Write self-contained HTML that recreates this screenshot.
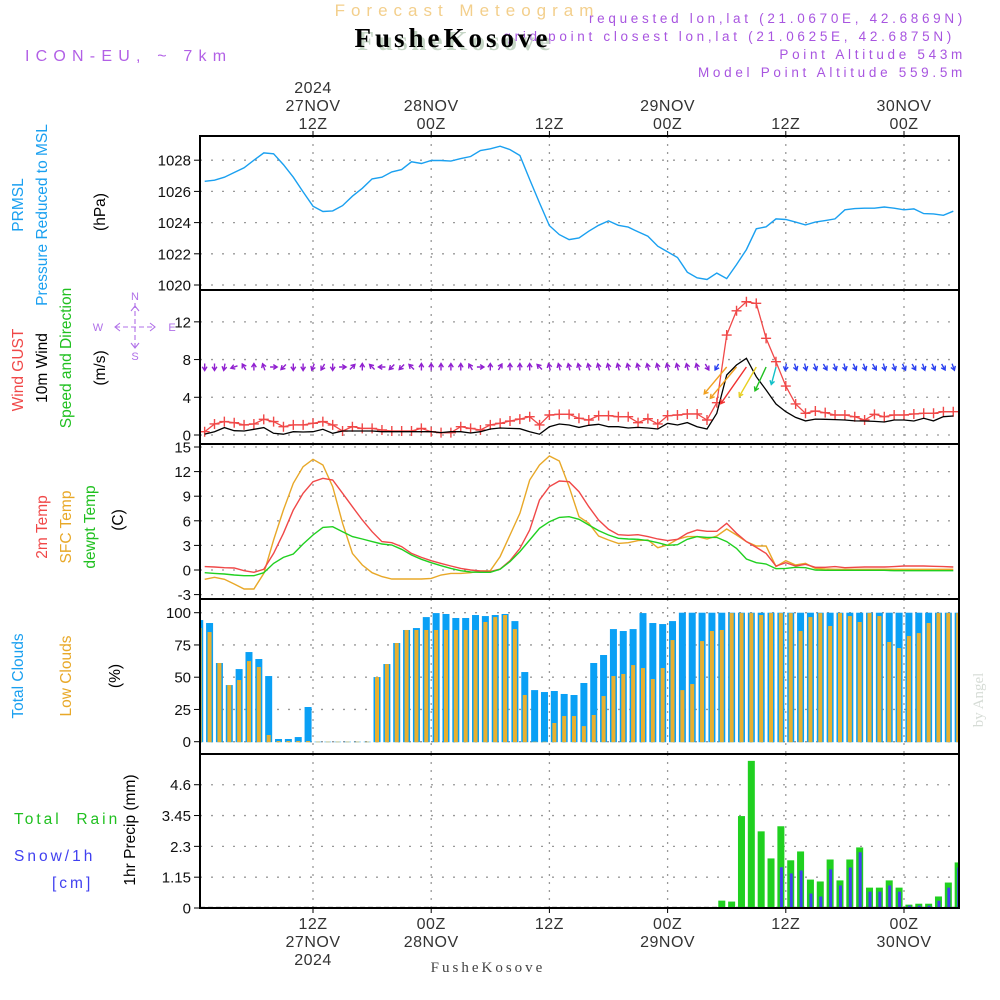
<!DOCTYPE html>
<html><head><meta charset="utf-8">
<style>
html,body{margin:0;padding:0;background:#fff;}
svg{display:block;}
text{font-family:"Liberation Sans",sans-serif;}
</style></head>
<body>
<svg id="chart" width="1000" height="1000" viewBox="0 0 1000 1000" xmlns="http://www.w3.org/2000/svg">
  <rect x="0" y="0" width="1000" height="1000" fill="#fff"/>
  <text x="467" y="16" text-anchor="middle" font-size="17" letter-spacing="6" fill="#f3cf8c">Forecast Meteogram</text>
  <g fill="#a855e0" font-size="13.5" letter-spacing="3.7" text-anchor="end">
    <text x="966" y="23">requested lon,lat (21.0670E, 42.6869N)</text>
    <text x="955" y="41">grid point closest lon,lat (21.0625E, 42.6875N)</text>
    <text x="966" y="59">Point Altitude 543m</text>
    <text x="966" y="77">Model Point Altitude 559.5m</text>
  </g>
  <text x="456" y="50" text-anchor="middle" font-weight="bold" font-size="27" letter-spacing="4" fill="#c6d6c6" style="font-family:'Liberation Serif',serif">FusheKosove</text>
  <text x="453" y="47" text-anchor="middle" font-weight="bold" font-size="27" letter-spacing="4" fill="#000" style="font-family:'Liberation Serif',serif">FusheKosove</text>
  <text x="25" y="61" font-size="16" letter-spacing="6.2" fill="#b260e6">ICON-EU, ~ 7km</text>
  <text x="983" y="700" transform="rotate(-90 983 700)" text-anchor="middle" font-size="15" fill="#d6dcd6" style="font-family:'Liberation Serif',serif">by Angel</text>
  <text x="488" y="972" text-anchor="middle" font-size="15" letter-spacing="3" fill="#444" style="font-family:'Liberation Serif',serif">FusheKosove</text>
  <g id="plot"></g>
</svg>
<script>
// ---------- data (hour index h = 1..N, hours after 00Z 27NOV 2024) ----------
const pressure = [1026.65,1026.72,1026.91,1027.21,1027.51,1028.0,1028.47,1028.41,1027.72,1026.91,1025.97,1025.05,1024.71,1024.75,1025.09,1025.69,1026.2,1026.8,1026.91,1027.25,1027.4,1027.9,1027.79,1027.98,1027.98,1027.94,1028.1,1028.24,1028.62,1028.73,1028.9,1028.68,1028.3,1026.76,1025.26,1023.81,1023.23,1022.91,1023.02,
 1023.45,1023.83,1024.11,1023.83,1023.71,1023.41,1023.13,1022.49,1022.12,1021.76,1020.82,1020.46,1020.35,1020.76,1020.41,1021.31,1022.27,1023.6,1023.73,1024.24,1024.2,1024.03,1023.85,1024.03,1024.13,1024.24,1024.82,1024.9,1024.92,1024.92,1025.0,1024.92,1024.82,1024.88,1024.58,1024.56,1024.47,1024.73];
const wind10m = [0.1,0.35,0.78,0.46,0.42,0.6,0.78,0.18,0.08,0.35,0.32,0.35,0.6,0.18,0.42,0.42,0.42,0.42,0.35,0.35,0.35,0.35,0.35,0.35,0.25,0.35,0.35,0.21,0.35,0.64,0.74,0.7,0.67,0.35,0.08,0.88,1.17,1.06,0.81,
 1.03,1.13,0.88,0.88,0.74,0.81,0.74,0.64,1.24,1.06,1.31,0.88,0.64,2.3,6.36,7.42,8.13,6.18,4.77,3.29,2.47,1.87,1.5,1.69,1.66,1.63,1.59,1.5,1.48,1.44,1.38,1.59,1.59,1.48,1.77,1.5,1.94,2.02];
const gust = [0.35,1.17,1.42,1.3,1.07,1.17,1.66,1.42,0.88,1.07,1.07,1.24,1.42,1.07,0.42,0.88,0.7,0.7,0.53,0.42,0.42,0.42,0.7,0.35,0.25,0.25,0.88,0.7,0.53,1.07,1.24,1.48,1.69,1.94,1.07,2.12,2.19,2.19,1.77,
 1.59,2.05,2.05,1.94,1.94,1.31,1.73,1.17,2.05,2.12,2.23,2.23,1.59,3.43,10.6,13.17,14.13,13.96,10.25,7.77,5.19,3.29,2.3,2.54,2.37,2.12,2.12,1.94,1.59,2.19,1.94,2.12,2.12,2.23,2.3,2.3,2.47,2.47];
const windDir = [180,180,190,250,330,0,340,90,225,180,180,200,210,180,90,45,0,315,270,225,225,315,0,0,0,0,0,330,90,0,30,0,0,0,315,
 345,345,345,345,345,345,345,345,345,345,345,345,345,345,345,345,150,210,220,220,215,210,205,195,190,
 160,165,160,150,160,165,155,160,150,165,160,155,150,160,155,150,160,155];
const temp2m = [0.41,0.37,0.28,0.24,-0.08,-0.28,0.08,2.03,4.47,7.32,9.35,10.77,11.18,10.98,9.35,7.72,6.1,4.67,3.46,3.33,2.85,2.03,1.54,1.14,0.81,0.49,0.2,0,-0.12,-0.2,0.12,1.14,2.64,4.88,8.54,10.16,10.85,10.77,9.55,
 7.72,6.1,4.96,4.31,4.23,4.31,4.07,3.78,3.58,3.74,4.47,4.88,4.72,4.72,5.69,4.47,3.46,2.76,2.03,0.49,0.89,0.49,0.69,0.33,0.33,0.41,0.28,0.33,0.37,0.37,0.37,0.41,0.49,0.49,0.49,0.45,0.41,0.37];
const tempSfc = [-1.14,-0.89,-1.14,-1.71,-2.32,-2.32,-0.41,3.66,7.32,10.57,12.6,13.5,12.8,10.16,5.69,2.03,0.61,-0.33,-0.81,-1.1,-1.1,-1.1,-1.1,-1.02,-0.61,-0.41,-0.41,-0.33,-0.12,-0.08,1.63,4.27,6.91,10.98,12.8,13.9,13.29,10.16,6.5,
 5.69,4.15,3.66,3.25,3.33,3.58,3.66,2.72,3.05,3.74,4.07,4.07,3.78,4.15,5.0,4.27,3.46,2.93,2.93,0.41,1.14,0.61,0.81,0.2,0.12,0.08,0.08,0.08,0.08,0.08,0.08,0.08,0.08,0.08,0.08,0.08,0.08,0.08];
const dewpt = [-0.33,-0.41,-0.49,-0.61,-0.69,-0.69,-0.33,0.81,1.54,1.95,3.17,4.27,5.2,5.28,4.67,4.07,3.78,3.46,3.17,3.05,2.52,1.83,1.3,0.89,0.53,0.2,-0.08,-0.24,-0.28,-0.28,0.08,1.02,2.24,3.66,5.08,5.89,6.42,6.5,6.18,
 5.49,4.8,4.27,3.86,3.78,3.74,3.58,3.33,3.01,3.09,3.74,4.07,3.98,3.98,3.46,2.64,1.34,0.89,0.73,0.16,0.2,0.33,0.28,0,-0.04,-0.04,-0.04,-0.04,-0.04,-0.04,-0.04,-0.08,-0.08,-0.08,-0.08,-0.08,-0.08,-0.08];
const totalClouds = [94.3,92,61,43.9,56.3,69.5,64.1,50.9,2.1,2.1,3.6,26.9,0,0,0,0,0,0,50.1,60.2,76.5,86.6,88.1,96.6,99.7,99,95.9,95.9,98.2,97.4,98.2,99,93.5,54,40,38.5,39.3,37,36.2,45.5,
 61,67.2,87.3,85.8,87.3,99.7,92,91.2,93.5,100,100,100,100,100,100,100,100,100,100,100,100,100,100,100,100,100,100,100,100,100,100,100,100,100,100,100,100,100];
const lowClouds = [88.1,85,61,43.9,47.8,62.5,57.9,5.2,0.5,0.5,0.5,0.5,0,0,0,0,0,0,50.1,60.2,76.5,86.6,86.6,86.6,86.6,86.6,86.6,86.6,86.6,92.8,96.6,98.2,87.3,36.2,0,0,14.5,19.9,19.9,12.1,
 20.7,35.4,50.9,52.5,59.4,57.1,48.6,57.1,78.8,40,44.7,78,85.8,86.6,99.7,99.7,99.7,98.2,99.7,99.7,99.7,85.8,96.6,99.7,89.7,99.7,97.4,92.8,99.7,97.4,77.3,72.6,81.9,84.2,92,99.7,99.7,99.7];
const rainTotal = [0,0,0,0,0,0,0,0,0,0,0,0,0,0,0,0,0,0,0,0,0,0,0,0,0,0,0,0,0,0,0,0,0,0,0,0,0,0,0,0,0,0,0,0,0,0,0,0,0,0,0,0,0,
 0.275,0.24,3.43,5.49,2.86,1.85,3.05,1.78,2.11,1.06,0.99,1.81,1.03,1.81,2.26,0.76,0.76,1.03,0.76,0.125,0.16,0.16,0.43,0.95,1.7];
const snow1h = [0,0,0,0,0,0,0,0,0,0,0,0,0,0,0,0,0,0,0,0,0,0,0,0,0,0,0,0,0,0,0,0,0,0,0,0,0,0,0,0,0,0,0,0,0,0,0,0,0,0,0,0,0,
 0,0,0,0,0,0.02,1.52,1.29,1.4,0.54,0.43,1.44,0.84,1.51,2.08,0.61,0.61,0.84,0.61,0.09,0.09,0.09,0.27,0.76,1.51];
const pressureTicks = [1020,1022,1024,1026,1028];
const windTicks = [0,4,8,12];
const tempTicks = [-3,0,3,6,9,12,15];
const cloudTicks = [0,25,50,75,100];
const precipTicks = [0,1.15,2.3,3.45,4.6];
const timeTicksH = [12,24,36,48,60,72];
const topLabels = [["2024","27NOV","12Z"],["","28NOV","00Z"],["","","12Z"],["","29NOV","00Z"],["","","12Z"],["","30NOV","00Z"]];
const bottomLabels = [["12Z","27NOV","2024"],["00Z","28NOV",""],["12Z","",""],["00Z","29NOV",""],["12Z","",""],["00Z","30NOV",""]];

// ---------- axes ----------
const X0 = 200, X1 = 959;
const xh = h => 313 + (h - 12) * 9.85;
const yP = v => 285 - (v - 1020) * 15.6;
const yW = v => 435 - v * 9.43;
const yT = v => 570 - v * 8.2;
const yC = v => 741.7 - v * 1.29;
const yR = v => 908 - v * 26.8;
const panels = [[136,290,'pressure'],[290,444,'wind'],[444,599,'temperature'],[599,754,'clouds'],[754,908,'precip']];

const NS = 'http://www.w3.org/2000/svg';
const plot = document.getElementById('plot');
function mk(tag, attrs, parent) {
  const e = document.createElementNS(NS, tag);
  for (const k in attrs) e.setAttribute(k, attrs[k]);
  (parent || plot).appendChild(e);
  return e;
}
const defs = mk('defs', {});
panels.forEach((p, i) => {
  const cp = mk('clipPath', {id: 'clip' + i}, defs);
  mk('rect', {x: X0, y: p[0], width: X1 - X0, height: p[1] - p[0]}, cp);
});

function panelGroup(i, name) {
  const g = mk('g', {'clip-path': 'url(#clip' + i + ')'});
  
  
  return g;
}

panels.forEach((p, i) => {
  const g = mk('g', {});
  
  
  timeTicksH.forEach(h => {
    mk('line', {x1: xh(h), x2: xh(h), y1: p[0], y2: p[1], stroke: '#999', 'stroke-width': 1.3, 'stroke-dasharray': '2,6'}, g);
  });
});
function yAxis(ticks, yf, i, fmt) {
  const p = panels[i];
  const g = mk('g', {});
  
  
  ticks.forEach(v => {
    const y = yf(v);
    mk('line', {x1: X0, x2: X1, y1: y, y2: y, stroke: '#999', 'stroke-width': 1.3, 'stroke-dasharray': '2,9'}, g);
    mk('line', {x1: X0 - 6, x2: X0, y1: y, y2: y, stroke: '#000', 'stroke-width': 1}, g);
    const t = mk('text', {x: X0 - 9, y: y + 5.5, 'text-anchor': 'end', 'font-size': 15, fill: '#111'}, g);
    t.textContent = fmt ? fmt(v) : String(v);
  });
}
yAxis(pressureTicks, yP, 0);
yAxis(windTicks, yW, 1);
yAxis(tempTicks, yT, 2);
yAxis(cloudTicks, yC, 3);
yAxis(precipTicks, yR, 4);

function linePath(arr, yf) {
  return arr.map((v, i) => (i ? 'L' : 'M') + xh(i + 1).toFixed(1) + ',' + yf(v).toFixed(1)).join('');
}
{
  const g = panelGroup(0, 'pressure-series');
  const p = mk('path', {d: linePath(pressure, yP), fill: 'none', stroke: '#1aa0f0', 'stroke-width': 1.4}, g);
  
  
}
{
  const g = panelGroup(1, 'wind-series');
  const gl = mk('path', {d: linePath(gust, yW), fill: 'none', stroke: '#f04848', 'stroke-width': 1.3}, g);
  
  
  gust.forEach((v, i) => {
    const x = xh(i + 1), y = yW(v);
    const m = mk('path', {d: `M${x - 5},${y}H${x + 5}M${x},${y - 5}V${y + 5}`, stroke: '#f04848', 'stroke-width': 1.4}, g);
    
    
  });
  const wl = mk('path', {d: linePath(wind10m, yW), fill: 'none', stroke: '#000', 'stroke-width': 1.3}, g);
  
  
  windDir.forEach((d, i) => {
    const s = wind10m[Math.min(i, wind10m.length - 1)];
    let col = '#9020d0';
    if (s >= 8) col = '#f03030'; else if (s >= 6.3) col = '#f0a020'; else if (s >= 5.5) col = '#e8d020';
    else if (s >= 4) col = '#20c020'; else if (s >= 3) col = '#10c0c8'; else if (s >= 1.35) col = '#2a40f0';
    const x0 = xh(i + 1), y0 = 367;
    const len = s >= 3 ? 5.5 * s : 7;
    const rad = d * Math.PI / 180;
    const dx = Math.sin(rad), dy = -Math.cos(rad);
    const sx = s >= 3 ? x0 : x0 - dx * len / 2, sy = s >= 3 ? y0 : y0 - dy * len / 2;
    const ex = sx + dx * len, ey = sy + dy * len;
    const hl = 4.5, a = 0.55;
    const h1x = ex - hl * (dx * Math.cos(a) - dy * Math.sin(a)), h1y = ey - hl * (dy * Math.cos(a) + dx * Math.sin(a));
    const h2x = ex - hl * (dx * Math.cos(a) + dy * Math.sin(a)), h2y = ey - hl * (dy * Math.cos(a) - dx * Math.sin(a));
    const ar = mk('path', {d: `M${sx.toFixed(1)},${sy.toFixed(1)}L${ex.toFixed(1)},${ey.toFixed(1)}M${h1x.toFixed(1)},${h1y.toFixed(1)}L${ex.toFixed(1)},${ey.toFixed(1)}L${h2x.toFixed(1)},${h2y.toFixed(1)}`, fill: 'none', stroke: col, 'stroke-width': 1.4}, g);
    
    
  });
}
{
  const g = panelGroup(2, 'temperature-series');
  [[tempSfc, '#e8a828', 'sfc-temp-line'], [temp2m, '#f04848', 'temp-2m-line'], [dewpt, '#20d020', 'dewpoint-line']].forEach(s => {
    const p = mk('path', {d: linePath(s[0], yT), fill: 'none', stroke: s[1], 'stroke-width': 1.4}, g);
    
    
  });
}
{
  const g = panelGroup(3, 'cloud-series');
  totalClouds.forEach((v, i) => {
    const xc = xh(i + 0.5);
    const r = mk('rect', {x: xc - 3.5, y: yC(v), width: 7, height: yC(0) - yC(v) + 0.5, fill: '#0aa0f5'}, g);
    
    
    const lv = lowClouds[i];
    const r2 = mk('rect', {x: xc - 2, y: yC(lv), width: 4, height: yC(0) - yC(lv) + 0.5, fill: '#e8b030'}, g);
    
    
  });
}
{
  const g = panelGroup(4, 'precip-series');
  mk('line', {x1: X0, x2: X1, y1: yR(0) - 0.5, y2: yR(0) - 0.5, stroke: '#000', 'stroke-width': 1.2, 'stroke-dasharray': '5,3'}, g);
  rainTotal.forEach((v, i) => {
    if (v <= 0) return;
    const xc = xh(i + 0.5);
    const r = mk('rect', {x: xc - 3.5, y: yR(v), width: 7, height: yR(0) - yR(v), fill: '#20d020'}, g);
    
    
  });
  snow1h.forEach((v, i) => {
    if (v <= 0) return;
    const xc = xh(i + 0.5);
    const r = mk('rect', {x: xc - 1, y: yR(v), width: 3, height: yR(0) - yR(v), fill: '#4040f0'}, g);
    
    
  });
}
panels.forEach((p, i) => {
  const r = mk('rect', {x: X0, y: p[0], width: X1 - X0, height: p[1] - p[0], fill: 'none', stroke: '#000', 'stroke-width': 2});
  
  
});
{
  const g = mk('g', {});
  
  
  timeTicksH.forEach((h, i) => {
    mk('line', {x1: xh(h), x2: xh(h), y1: 131, y2: 136, stroke: '#000'}, g);
    topLabels[i].forEach((s, j) => {
      if (!s) return;
      const t = mk('text', {x: xh(h), y: 93 + j * 18, 'text-anchor': 'middle', 'font-size': 16, 'letter-spacing': 0.5, fill: '#333'}, g);
      t.textContent = s;
    });
  });
  const gb = mk('g', {});
  
  
  timeTicksH.forEach((h, i) => {
    mk('line', {x1: xh(h), x2: xh(h), y1: 908, y2: 913, stroke: '#000'}, gb);
    bottomLabels[i].forEach((s, j) => {
      if (!s) return;
      const t = mk('text', {x: xh(h), y: 929 + j * 18, 'text-anchor': 'middle', 'font-size': 16, 'letter-spacing': 0.5, fill: '#333'}, gb);
      t.textContent = s;
    });
  });
}
</script>
<div style="position:absolute;left:0;top:0;width:1000px;height:1000px;pointer-events:none">
<svg width="1000" height="1000" viewBox="0 0 1000 1000" xmlns="http://www.w3.org/2000/svg" style="position:absolute;left:0;top:0">
  <g font-size="15.5" style="font-family:'Liberation Sans',sans-serif">
    <text x="23" y="205" transform="rotate(-90 23 205)" text-anchor="middle" fill="#1aa0f0">PRMSL</text>
    <text x="47" y="215" transform="rotate(-90 47 215)" text-anchor="middle" fill="#1aa0f0">Pressure Reduced to MSL</text>
    <text x="105" y="212" transform="rotate(-90 105 212)" text-anchor="middle" fill="#000">(hPa)</text>
    <text x="23" y="370" transform="rotate(-90 23 370)" text-anchor="middle" fill="#f04848">Wind GUST</text>
    <text x="47" y="368" transform="rotate(-90 47 368)" text-anchor="middle" fill="#000">10m Wind</text>
    <text x="71" y="358" transform="rotate(-90 71 358)" text-anchor="middle" fill="#20c020">Speed and Direction</text>
    <text x="105" y="368" transform="rotate(-90 105 368)" text-anchor="middle" fill="#000">(m/s)</text>
    <text x="47" y="527" transform="rotate(-90 47 527)" text-anchor="middle" fill="#f04848">2m Temp</text>
    <text x="71" y="527" transform="rotate(-90 71 527)" text-anchor="middle" fill="#e8a828">SFC Temp</text>
    <text x="95" y="527" transform="rotate(-90 95 527)" text-anchor="middle" fill="#20c020">dewpt Temp</text>
    <text x="123" y="520" transform="rotate(-90 123 520)" text-anchor="middle" fill="#000">(C)</text>
    <text x="23" y="676" transform="rotate(-90 23 676)" text-anchor="middle" fill="#1aa0f0">Total Clouds</text>
    <text x="71" y="676" transform="rotate(-90 71 676)" text-anchor="middle" fill="#e8a828">Low Clouds</text>
    <text x="120" y="676" transform="rotate(-90 120 676)" text-anchor="middle" fill="#000">(%)</text>
    <text x="135" y="830" transform="rotate(-90 135 830)" text-anchor="middle" fill="#000">1hr Precip (mm)</text>
    <text x="14" y="824" fill="#20c020" letter-spacing="3" xml:space="preserve">Total  Rain</text>
    <text x="14" y="861" fill="#4040f0" letter-spacing="3">Snow/1h</text>
    <text x="52" y="888" fill="#4040f0" letter-spacing="3">[cm]</text>
  </g>
  <g stroke="#b070e8" fill="none" stroke-width="1.1">
    <line x1="135" y1="303" x2="135" y2="350" stroke-dasharray="5,3"/>
    <line x1="115" y1="327" x2="155" y2="327" stroke-dasharray="5,3"/>
    <path d="M131,311L135,306L139,311M131,343L135,348L139,343M120,323L115,327L120,331M150,323L155,327L150,331"/>
  </g>
  <g font-size="11" fill="#b070e8" text-anchor="middle" style="font-family:'Liberation Sans',sans-serif">
    <text x="135" y="300">N</text>
    <text x="135" y="360">S</text>
    <text x="98" y="331">W</text>
    <text x="172" y="331">E</text>
  </g>
</svg>
</div>
</body></html>
